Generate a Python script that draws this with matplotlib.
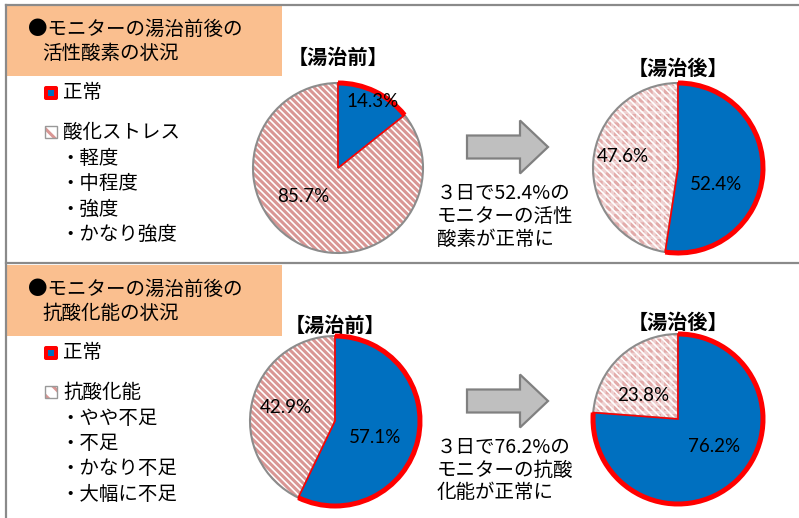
import matplotlib.pyplot as plt
import matplotlib.patches as mpatches

plt.rcParams['font.family'] = ['Noto Sans CJK JP', 'DejaVu Sans']
plt.rcParams['hatch.linewidth'] = 2.2

# data
slice_names = ['正常', 'その他']
top_before = [14.3, 85.7]
top_after = [52.4, 47.6]
bottom_before = [57.1, 42.9]
bottom_after = [76.2, 23.8]

top_title = ['●モニターの湯治前後の', '活性酸素の状況']
bottom_title = ['●モニターの湯治前後の', '抗酸化能の状況']
top_legend = ['正常', '酸化ストレス']
top_items = ['・軽度', '・中程度', '・強度', '・かなり強度']
bottom_legend = ['正常', '抗酸化能']
bottom_items = ['・やや不足', '・不足', '・かなり不足', '・大幅に不足']
top_note = ['３日で52.4%の', 'モニターの活性', '酸素が正常に']
bottom_note = ['３日で76.2%の', 'モニターの抗酸', '化能が正常に']

BLUE = '#0070C0'
RED = '#FF0000'
PINK = '#D99694'
PINK_LIGHT = '#E2ABAA'
ORANGE = '#FABF8F'
FRAME = '#8A8A8A'
HATCH = '\\' * 5
W, H = 799, 518

fig = plt.figure(figsize=(W / 100, H / 100), dpi=100)
bg = fig.add_axes([0, 0, 1, 1])
bg.set_xlim(0, W)
bg.set_ylim(H, 0)
bg.axis('off')

# frame lines
bg.plot([6, W], [5, 5], color=FRAME, lw=1.6)
bg.plot([6, W], [263, 263], color=FRAME, lw=1.6)
bg.plot([6, 6], [5, H], color=FRAME, lw=1.6)


def panel(y0, title, legend, items, note, arrow_y):
    bg.add_patch(mpatches.Rectangle((7, y0), 275, 71, color=ORANGE, lw=0))
    bg.text(28, y0 + 24, title[0], fontsize=14, va='center')
    bg.text(42, y0 + 48, title[1], fontsize=14, va='center')

    # legend keys
    ly = y0 + 88
    bg.add_patch(mpatches.FancyBboxPatch((44, ly - 7), 14, 14,
                 boxstyle='round,pad=0,rounding_size=2', color=RED, lw=0))
    bg.add_patch(mpatches.Rectangle((48, ly - 3), 6, 6, color=BLUE, lw=0))
    bg.text(63, ly, legend[0], fontsize=14, va='center')
    hy = ly + 39
    bg.add_patch(mpatches.Rectangle((45, hy - 6), 12, 12, facecolor='white',
                 edgecolor=PINK, hatch='\\\\', lw=0))
    bg.add_patch(mpatches.Rectangle((45, hy - 6), 12, 12, fill=False,
                 edgecolor='#999999', lw=1))
    bg.text(63, hy, legend[1], fontsize=14, va='center')
    for i, s in enumerate(items):
        bg.text(60, hy + 26 + i * 25.5, s, fontsize=14, va='center')

    # arrow
    bg.add_patch(mpatches.FancyArrow(467, arrow_y, 81, 0, width=23,
                 head_width=53, head_length=28, length_includes_head=True,
                 facecolor='#BFBFBF', edgecolor='#808080', lw=1.6))
    for i, s in enumerate(note):
        bg.text(437, arrow_y + 46 + i * 23, s, fontsize=14, va='center')


panel(5, top_title, top_legend, top_items, top_note, 147)
panel(265, bottom_title, bottom_legend, bottom_items, bottom_note, 401)


def draw_pie(cx, cy, values, title, ty, label_pos, after):
    r = 85
    pad = 1.12
    ax = fig.add_axes([(cx - r * pad) / W, 1 - (cy + r * pad) / H,
                       2 * r * pad / W, 2 * r * pad / H])
    wedges, _ = ax.pie(values, colors=[BLUE, 'white'], startangle=90,
                       counterclock=False, radius=1)
    ax.set_xlim(-pad, pad)
    ax.set_ylim(-pad, pad)
    blue, rest = wedges
    rest.set_edgecolor(PINK_LIGHT if after else PINK)
    rest.set_linewidth(0)
    rest.set_hatch(HATCH)
    rest.set_zorder(1)
    if after:
        ax.add_patch(mpatches.Wedge((0, 0), 1, rest.theta1, rest.theta2,
                     fill=False, edgecolor=(1, 1, 1, 0.45), hatch='++',
                     lw=0, zorder=2))
    ax.add_patch(mpatches.Wedge((0, 0), 1, rest.theta1, rest.theta2,
                 fill=False, edgecolor='#8C8C8C', lw=1.5, zorder=3))
    blue.set_edgecolor(RED)
    blue.set_linewidth(1.2)
    blue.set_zorder(4)
    ax.add_patch(mpatches.Arc((0, 0), 2, 2, theta1=blue.theta1,
                 theta2=blue.theta2, color=RED, lw=3.6, zorder=5))
    for v, (px, py) in zip(values, label_pos):
        ax.text(px, py, f'{v:.1f}%', fontsize=13.5, ha='center', va='center',
                family=['Lato', 'DejaVu Sans'], zorder=6)
    bg.text(cx, ty, title, fontsize=14.5, fontweight='bold',
            ha='center', va='center')


draw_pie(338, 168, top_before, '【湯治前】', 57,
         [(0.41, 0.78), (-0.41, -0.33)], False)
draw_pie(678, 168, top_after, '【湯治後】', 68,
         [(0.45, -0.2), (-0.65, 0.13)], True)
draw_pie(335, 421, bottom_before, '【湯治前】', 325,
         [(0.47, -0.19), (-0.58, 0.16)], False)
draw_pie(678, 419, bottom_after, '【湯治後】', 322,
         [(0.42, -0.32), (-0.41, 0.28)], True)

fig.savefig('out.png', dpi=100)
